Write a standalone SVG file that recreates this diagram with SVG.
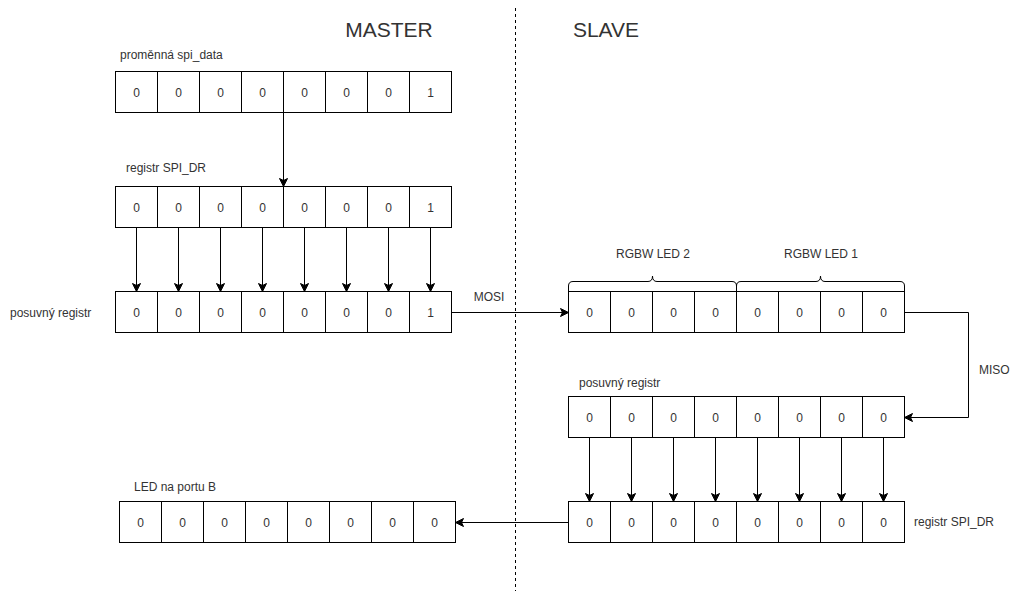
<svg xmlns="http://www.w3.org/2000/svg" width="1011" height="593" viewBox="0 0 1011 593">
<style>
.cell{fill:#fff;stroke:#000;stroke-width:1}
.v{font-family:"Liberation Sans",Arial,sans-serif;font-size:12px;fill:#333;text-anchor:middle}
.lbl{font-family:"Liberation Sans",Arial,sans-serif;font-size:12px;fill:#333}
.title{font-family:"Liberation Sans",Arial,sans-serif;font-size:21px;fill:#333;text-anchor:middle}
.c{fill:none;stroke:#000;stroke-width:1}
.arr{marker-end:url(#ah)}
</style>
<defs>
<marker id="ah" markerUnits="userSpaceOnUse" markerWidth="10" markerHeight="10" viewBox="0 0 10 10" refX="9" refY="5" orient="auto">
<path d="M1,1 L9,5 L1,9 L3,5 z" fill="#000" stroke="#000" stroke-width="1"/>
</marker>
<g id="row0">
<rect class="cell" x="0" y="0" width="42" height="41"/><rect class="cell" x="42" y="0" width="42" height="41"/><rect class="cell" x="84" y="0" width="42" height="41"/><rect class="cell" x="126" y="0" width="42" height="41"/><rect class="cell" x="168" y="0" width="42" height="41"/><rect class="cell" x="210" y="0" width="42" height="41"/><rect class="cell" x="252" y="0" width="42" height="41"/><rect class="cell" x="294" y="0" width="42" height="41"/>
<text class="v" x="21" y="25">0</text><text class="v" x="63" y="25">0</text><text class="v" x="105" y="25">0</text><text class="v" x="147" y="25">0</text><text class="v" x="189" y="25">0</text><text class="v" x="231" y="25">0</text><text class="v" x="273" y="25">0</text>
</g>
</defs>

<g id="divider"><line x1="515.5" y1="8" x2="515.5" y2="591" stroke="#000" stroke-width="1" stroke-dasharray="3 3"/></g>

<g id="titles">
<text class="title" x="389" y="37">MASTER</text>
<text class="title" x="606" y="37">SLAVE</text>
</g>

<g id="master-spi-data">
<text class="lbl" x="120" y="59">proměnná spi_data</text>
<use href="#row0" x="115.5" y="71.5"/>
<text class="v" x="430.5" y="96.5">1</text>
</g>

<g id="master-spi-dr">
<text class="lbl" x="126" y="172">registr SPI_DR</text>
<use href="#row0" x="115.5" y="186.5"/>
<text class="v" x="430.5" y="211.5">1</text>
</g>

<g id="master-shift">
<text class="lbl" x="10" y="316.5">posuvný registr</text>
<use href="#row0" x="115.5" y="291.5"/>
<text class="v" x="430.5" y="316.5">1</text>
</g>

<g id="slave-rgbw">
<use href="#row0" x="568.5" y="291.5"/>
<text class="v" x="883.5" y="316.5">0</text>
<path class="c" d="M568.5,291.5 L568.5,286 Q568.5,281.5 573,281.5 L648,281.5 Q652.5,281.5 652.5,276 Q652.5,281.5 657,281.5 L732,281.5 Q736.5,281.5 736.5,286 L736.5,291.5"/>
<path class="c" d="M736.5,291.5 L736.5,286 Q736.5,281.5 741,281.5 L816,281.5 Q820.5,281.5 820.5,276 Q820.5,281.5 825,281.5 L900,281.5 Q904.5,281.5 904.5,286 L904.5,291.5"/>
<text class="v" x="653" y="258">RGBW LED 2</text>
<text class="v" x="821" y="258">RGBW LED 1</text>
</g>

<g id="slave-shift">
<text class="lbl" x="579" y="387">posuvný registr</text>
<use href="#row0" x="568.5" y="396.5"/>
<text class="v" x="883.5" y="421.5">0</text>
</g>

<g id="slave-spi-dr">
<use href="#row0" x="568.5" y="501.5"/>
<text class="v" x="883.5" y="526.5">0</text>
<text class="lbl" x="914" y="526">registr SPI_DR</text>
</g>

<g id="led-portb">
<text class="lbl" x="134" y="491">LED na portu B</text>
<use href="#row0" x="119.5" y="501.5"/>
<text class="v" x="434.5" y="526.5">0</text>
</g>

<g id="connectors">
<line class="c arr" x1="283.5" y1="112.5" x2="283.5" y2="186.5"/>
<line class="c arr" x1="136.5" y1="227.5" x2="136.5" y2="291.5"/>
<line class="c arr" x1="178.5" y1="227.5" x2="178.5" y2="291.5"/>
<line class="c arr" x1="220.5" y1="227.5" x2="220.5" y2="291.5"/>
<line class="c arr" x1="262.5" y1="227.5" x2="262.5" y2="291.5"/>
<line class="c arr" x1="304.5" y1="227.5" x2="304.5" y2="291.5"/>
<line class="c arr" x1="346.5" y1="227.5" x2="346.5" y2="291.5"/>
<line class="c arr" x1="388.5" y1="227.5" x2="388.5" y2="291.5"/>
<line class="c arr" x1="430.5" y1="227.5" x2="430.5" y2="291.5"/>
<line class="c arr" x1="451.5" y1="312.5" x2="568.5" y2="312.5"/>
<text class="v" x="489" y="300.5">MOSI</text>
<polyline class="c arr" points="904.5,312.5 968.5,312.5 968.5,417.5 904.5,417.5"/>
<text class="lbl" x="979" y="373.5">MISO</text>
<line class="c arr" x1="589.5" y1="437.5" x2="589.5" y2="501.5"/>
<line class="c arr" x1="631.5" y1="437.5" x2="631.5" y2="501.5"/>
<line class="c arr" x1="673.5" y1="437.5" x2="673.5" y2="501.5"/>
<line class="c arr" x1="715.5" y1="437.5" x2="715.5" y2="501.5"/>
<line class="c arr" x1="757.5" y1="437.5" x2="757.5" y2="501.5"/>
<line class="c arr" x1="799.5" y1="437.5" x2="799.5" y2="501.5"/>
<line class="c arr" x1="841.5" y1="437.5" x2="841.5" y2="501.5"/>
<line class="c arr" x1="883.5" y1="437.5" x2="883.5" y2="501.5"/>
<line class="c arr" x1="568.5" y1="522.5" x2="455.5" y2="522.5"/>
</g>
</svg>
